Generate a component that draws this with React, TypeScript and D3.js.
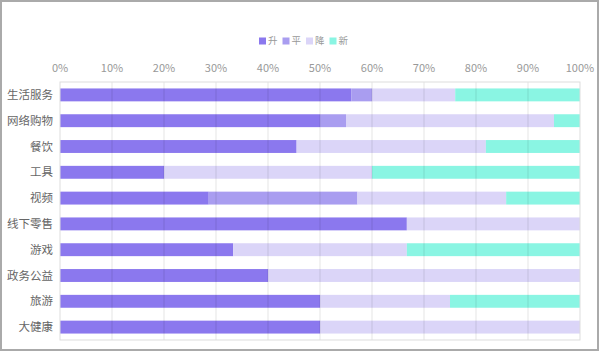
import React, { useEffect, useRef } from 'react';
import * as d3 from 'd3';

const categories = ['生活服务', '网络购物', '餐饮', '工具', '视频', '线下零售', '游戏', '政务公益', '旅游', '大健康'];
const seriesNames = ['升', '平', '降', '新'];
const up = [56, 50, 45.5, 20, 28.6, 66.7, 33.3, 40, 50, 50];
const flat = [4, 5, 0, 0, 28.6, 0, 0, 0, 0, 0];
const down = [16, 40, 36.4, 40, 28.6, 33.3, 33.4, 60, 25, 50];
const fresh = [24, 5, 18.1, 40, 14.2, 0, 33.3, 0, 25, 0];
const colors = ['#8b78ee', '#a99df0', '#dbd5f8', '#8af5e3'];
const tickValues = [0, 10, 20, 30, 40, 50, 60, 70, 80, 90, 100];

const W = 600;
const H = 352;
const FONT = '"Noto Sans CJK SC", "Noto Sans", sans-serif';

const App: React.FC = () => {
  const svgRef = useRef<SVGSVGElement>(null);

  useEffect(() => {
    if (!svgRef.current) return;
    const svg = d3.select(svgRef.current);
    svg.selectAll('*').remove();

    const margin = { top: 82, right: 20, bottom: 12, left: 60 };
    const innerWidth = W - margin.left - margin.right;
    const innerHeight = 258;

    // outer frame
    svg.append('rect')
      .attr('x', 1).attr('y', 1)
      .attr('width', W - 3).attr('height', H - 3)
      .attr('fill', '#fff')
      .attr('stroke', '#aaa')
      .attr('stroke-width', 2);

    const g = svg.append('g').attr('transform', `translate(${margin.left},${margin.top})`);

    const x = d3.scaleLinear().domain([0, 100]).range([0, innerWidth]);
    const y = d3.scaleBand().domain(categories).range([0, innerHeight]).paddingInner(0.5).paddingOuter(0.25);

    const rows = categories.map((c, i) => ({ cat: c, vals: [up[i], flat[i], down[i], fresh[i]] }));
    const stackData = d3.stack<any>()
      .keys(['0', '1', '2', '3'])
      .value((d, k) => d.vals[+k])(rows);

    // bars
    stackData.forEach((layer, si) => {
      g.append('g')
        .selectAll('rect')
        .data(layer)
        .enter()
        .append('rect')
        .attr('x', d => x(d[0]))
        .attr('y', d => y((d.data as any).cat) || 0)
        .attr('width', d => Math.max(0, x(Math.min(100, d[1])) - x(d[0])))
        .attr('height', y.bandwidth())
        .attr('fill', colors[si]);
    });

    // grid lines
    g.append('g')
      .selectAll('line')
      .data(tickValues.slice(1, -1))
      .enter()
      .append('line')
      .attr('x1', d => x(d)).attr('x2', d => x(d))
      .attr('y1', 0).attr('y2', innerHeight)
      .attr('stroke', '#000')
      .attr('stroke-opacity', 0.1);

    // plot frame
    g.append('rect')
      .attr('x', 0).attr('y', 0)
      .attr('width', innerWidth).attr('height', innerHeight)
      .attr('fill', 'none')
      .attr('stroke', '#ddd');

    // top tick labels
    g.append('g')
      .selectAll('text')
      .data(tickValues)
      .enter()
      .append('text')
      .attr('x', d => x(d))
      .attr('y', -10)
      .attr('text-anchor', 'middle')
      .style('font-family', FONT)
      .style('font-size', '11px')
      .style('fill', '#999')
      .text(d => `${d}%`);

    // category labels
    g.append('g')
      .selectAll('text')
      .data(categories)
      .enter()
      .append('text')
      .attr('x', -7)
      .attr('y', d => (y(d) || 0) + y.bandwidth() / 2)
      .attr('dy', '0.35em')
      .attr('text-anchor', 'end')
      .style('font-family', FONT)
      .style('font-size', '11.5px')
      .style('fill', '#666')
      .text(d => d);

    // legend
    const legend = svg.append('g').attr('transform', 'translate(259,41)');
    const step = 23.5;
    seriesNames.forEach((name, i) => {
      const item = legend.append('g').attr('transform', `translate(${i * step},0)`);
      item.append('rect')
        .attr('x', 0).attr('y', -3.5)
        .attr('width', 7).attr('height', 7)
        .attr('fill', colors[i]);
      item.append('text')
        .attr('x', 9)
        .attr('y', 0)
        .attr('dy', '0.35em')
        .style('font-family', FONT)
        .style('font-size', '9.5px')
        .style('fill', '#999')
        .text(name);
    });
  }, []);

  return (
    <svg
      ref={svgRef}
      width={W}
      height={H}
      style={{ position: 'absolute', left: 0, top: 0 }}
    />
  );
};

export default App;
